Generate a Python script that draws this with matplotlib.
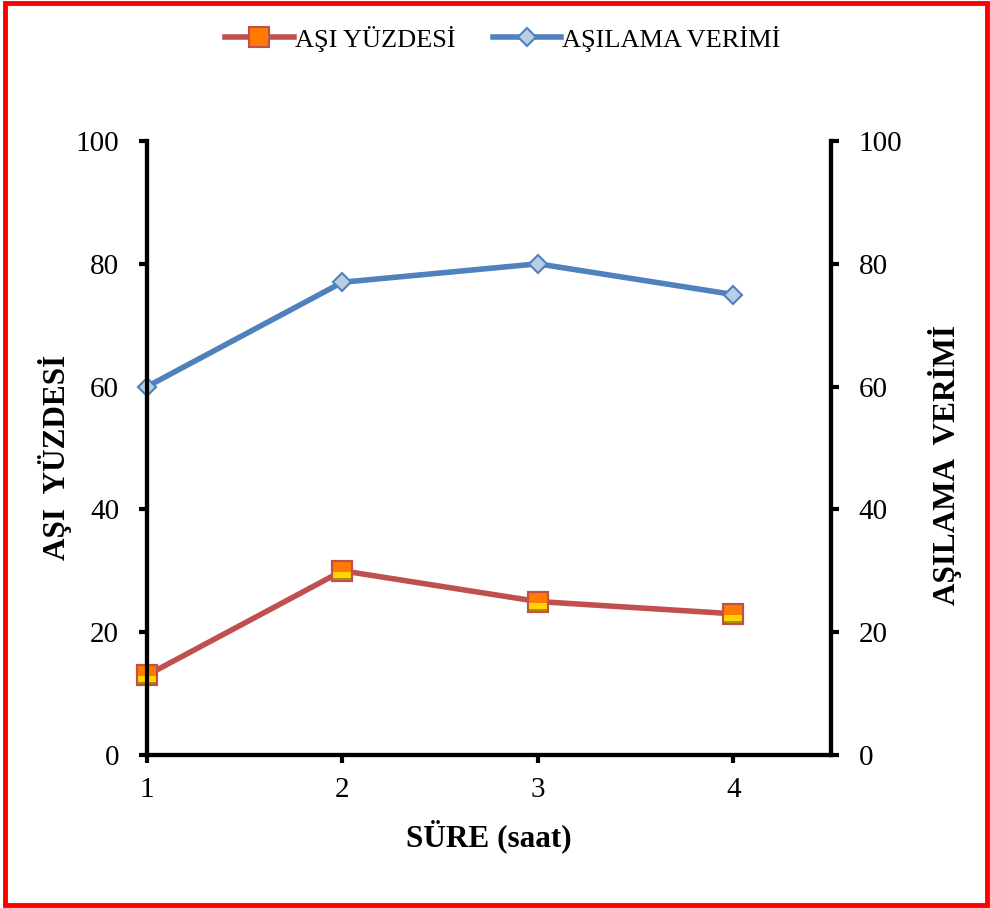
import matplotlib
matplotlib.use("Agg")
import matplotlib.pyplot as plt
from matplotlib.patches import Rectangle
from matplotlib.path import Path

plt.rcParams['font.family'] = ['Liberation Serif', 'DejaVu Serif']

sure = [1, 2, 3, 4]
asi_yuzdesi = [13, 30, 25, 23]
asilama_verimi = [60, 77, 80, 75]
y_ticks = [0, 20, 40, 60, 80, 100]

red = '#C0504D'
blue = '#4F81BD'

fig = plt.figure(figsize=(9.9, 9.08), dpi=100)
ax = fig.add_axes([0.1485, 0.1685, 0.6909, 0.6762])
ax2 = ax.twinx()


def band(y0, y1):
    # horizontal strip inside the unit square marker; corner points keep the scale
    return Path([(-1, -1), (1, 1), (-1, y0), (1, y0), (1, y1), (-1, y1), (-1, y0)],
                [Path.MOVETO, Path.MOVETO, Path.MOVETO, Path.LINETO, Path.LINETO,
                 Path.LINETO, Path.CLOSEPOLY])


ms_sq = 14
ax.plot(sure, asi_yuzdesi, color=red, lw=4, marker='s', ms=ms_sq,
        mfc='#FF7A00', mec=red, mew=1.5, label='AŞI YÜZDESİ', zorder=3,
        clip_on=False)
# shaded lower part of the square markers
ax.plot(sure, asi_yuzdesi, ls='none', marker=band(-0.75, -0.15), ms=ms_sq,
        mfc='#FFD400', mew=0, zorder=4, clip_on=False)
ax.plot(sure, asi_yuzdesi, ls='none', marker=band(-1, -0.75), ms=ms_sq,
        mfc='#A89000', mew=0, zorder=4, clip_on=False)
ax.plot(sure, asi_yuzdesi, ls='none', marker='s', ms=ms_sq,
        mfc='none', mec=red, mew=1.5, zorder=5, clip_on=False)

ax.plot(sure, asilama_verimi, color=blue, lw=4, marker='D', ms=9,
        mfc='#B9CDE5', mec=blue, mew=1.5, label='AŞILAMA VERİMİ', zorder=3,
        clip_on=False)

for a in (ax, ax2):
    a.set_xlim(1, 4.5)
    a.set_ylim(0, 100)
    a.set_yticks(y_ticks)
    for s in a.spines.values():
        s.set_linewidth(3)
        s.set_color('black')
    a.spines['top'].set_visible(False)
    a.tick_params(width=3, length=6, labelsize=21, direction='out', pad=14)

ax.set_xticks(sure)
ax.tick_params(axis='x', pad=10)

ax.set_xlabel('SÜRE (saat)', fontsize=22.5, fontweight='bold', labelpad=12)
ax.set_ylabel('AŞI  YÜZDESİ', fontsize=22.5, fontweight='bold', va='center')
ax.yaxis.set_label_coords(-0.134, 0.485)
ax2.set_ylabel('AŞILAMA  VERİMİ', fontsize=22.5, fontweight='bold',
               rotation=90, va='center')
ax2.yaxis.set_label_coords(1.166, 0.472)

ax.legend(loc='upper center', bbox_to_anchor=(0.508, 0.998),
          bbox_transform=fig.transFigure, ncol=2, frameon=False,
          fontsize=19, handlelength=2.6, columnspacing=1.4, handletextpad=0.05)

fig.patches.append(Rectangle((0.005, 0.003), 0.992, 0.994, transform=fig.transFigure,
                             fill=False, edgecolor='#FF0000', lw=3.5))

fig.savefig('out.png', dpi=100)
